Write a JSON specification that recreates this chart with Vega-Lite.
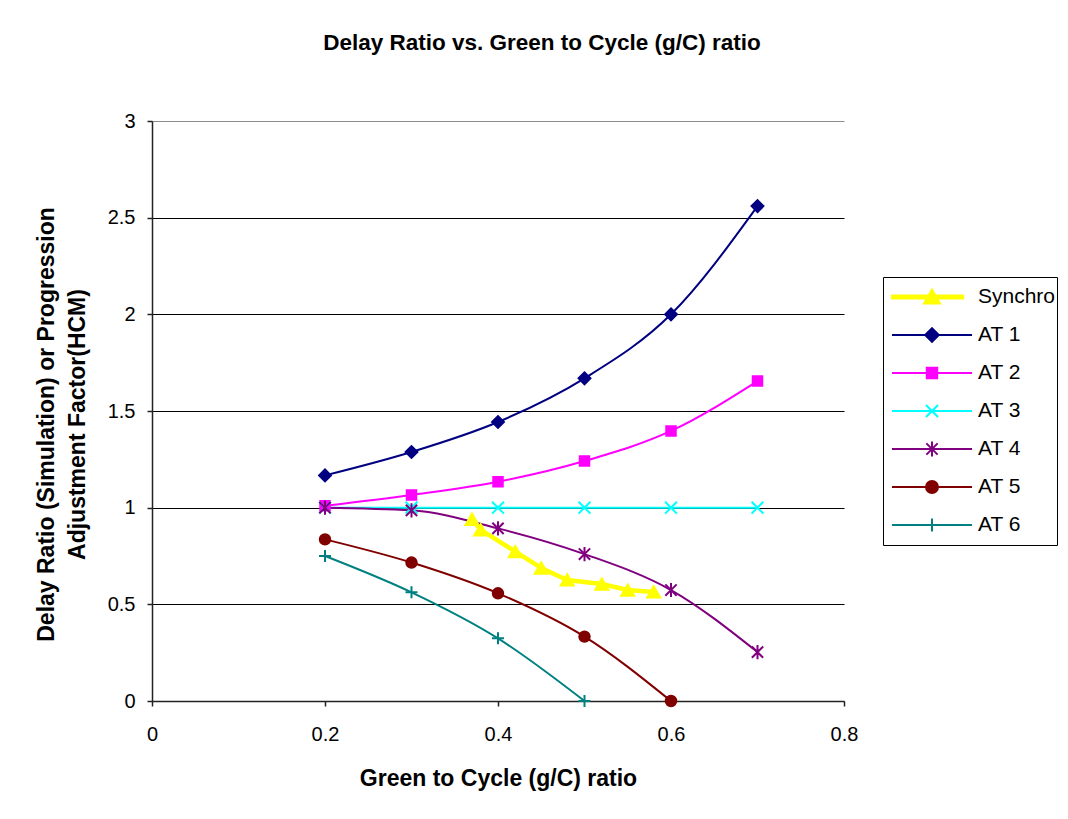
{
  "$schema": "https://vega.github.io/schema/vega-lite/v6.json",
  "width": 692,
  "height": 580,
  "autosize": {"type": "none"},
  "padding": {"left": 152, "top": 121, "right": 224, "bottom": 118},
  "background": "white",
  "title": {
    "text": "Delay Ratio vs. Green to Cycle (g/C) ratio",
    "font": "Liberation Sans",
    "fontSize": 22.5,
    "fontWeight": "bold",
    "color": "black",
    "anchor": "middle",
    "dx": 44,
    "offset": 57
  },
  "data": {
    "values": [
      {"series": "Synchro", "gc": 0.37, "ratio": 0.94},
      {"series": "Synchro", "gc": 0.38, "ratio": 0.885},
      {"series": "Synchro", "gc": 0.42, "ratio": 0.773},
      {"series": "Synchro", "gc": 0.45, "ratio": 0.688},
      {"series": "Synchro", "gc": 0.48, "ratio": 0.626},
      {"series": "Synchro", "gc": 0.52, "ratio": 0.605},
      {"series": "Synchro", "gc": 0.55, "ratio": 0.574},
      {"series": "Synchro", "gc": 0.58, "ratio": 0.564},
      {"series": "AT 1", "gc": 0.2, "ratio": 1.167},
      {"series": "AT 1", "gc": 0.3, "ratio": 1.288},
      {"series": "AT 1", "gc": 0.4, "ratio": 1.443},
      {"series": "AT 1", "gc": 0.5, "ratio": 1.669},
      {"series": "AT 1", "gc": 0.6, "ratio": 2.0},
      {"series": "AT 1", "gc": 0.7, "ratio": 2.56},
      {"series": "AT 2", "gc": 0.2, "ratio": 1.01},
      {"series": "AT 2", "gc": 0.3, "ratio": 1.066},
      {"series": "AT 2", "gc": 0.4, "ratio": 1.134},
      {"series": "AT 2", "gc": 0.5, "ratio": 1.241},
      {"series": "AT 2", "gc": 0.6, "ratio": 1.397},
      {"series": "AT 2", "gc": 0.7, "ratio": 1.655},
      {"series": "AT 3", "gc": 0.2, "ratio": 1.0},
      {"series": "AT 3", "gc": 0.3, "ratio": 1.0},
      {"series": "AT 3", "gc": 0.4, "ratio": 1.0},
      {"series": "AT 3", "gc": 0.5, "ratio": 1.0},
      {"series": "AT 3", "gc": 0.6, "ratio": 1.0},
      {"series": "AT 3", "gc": 0.7, "ratio": 1.0},
      {"series": "AT 4", "gc": 0.2, "ratio": 1.0},
      {"series": "AT 4", "gc": 0.3, "ratio": 0.986},
      {"series": "AT 4", "gc": 0.4, "ratio": 0.893},
      {"series": "AT 4", "gc": 0.5, "ratio": 0.76},
      {"series": "AT 4", "gc": 0.6, "ratio": 0.574},
      {"series": "AT 4", "gc": 0.7, "ratio": 0.253},
      {"series": "AT 5", "gc": 0.2, "ratio": 0.836},
      {"series": "AT 5", "gc": 0.3, "ratio": 0.716},
      {"series": "AT 5", "gc": 0.4, "ratio": 0.557},
      {"series": "AT 5", "gc": 0.5, "ratio": 0.333},
      {"series": "AT 5", "gc": 0.6, "ratio": 0.0},
      {"series": "AT 6", "gc": 0.2, "ratio": 0.75},
      {"series": "AT 6", "gc": 0.3, "ratio": 0.562},
      {"series": "AT 6", "gc": 0.4, "ratio": 0.324},
      {"series": "AT 6", "gc": 0.5, "ratio": 0.0}
    ]
  },
  "encoding": {
    "x": {
      "field": "gc",
      "type": "quantitative",
      "scale": {"domain": [0, 0.8], "nice": false},
      "axis": {
        "title": "Green to Cycle (g/C) ratio",
        "values": [0, 0.2, 0.4, 0.6, 0.8],
        "format": "~g",
        "grid": false,
        "labelFlush": false,
        "tickSize": 5,
        "labelPadding": 18,
        "titleY": 66
      }
    },
    "y": {
      "field": "ratio",
      "type": "quantitative",
      "scale": {"domain": [0, 3], "nice": false},
      "axis": {
        "title": ["Delay Ratio (Simulation) or Progression", "Adjustment Factor(HCM)"],
        "values": [0, 0.5, 1, 1.5, 2, 2.5, 3],
        "format": "~g",
        "grid": true,
        "gridColor": {"condition": {"test": "datum.value === 3", "value": "#8c8c8c"}, "value": "black"},
        "gridWidth": 1,
        "tickSize": 5,
        "labelPadding": 12,
        "titleX": -94,
        "titleY": 303,
        "titleLineHeight": 31
      }
    },
    "color": {
      "field": "series",
      "type": "nominal",
      "scale": {
        "domain": ["Synchro", "AT 1", "AT 2", "AT 3", "AT 4", "AT 5", "AT 6"],
        "range": ["#FFFF00", "#000080", "#FF00FF", "#00FFFF", "#800080", "#800000", "#008080"]
      },
      "legend": {
        "title": null,
        "orient": "none",
        "legendX": 731,
        "legendY": 156,
        "direction": "vertical",
        "symbolSize": 6400,
        "symbolStrokeWidth": 2,
        "clipHeight": 38,
        "rowPadding": 0,
        "padding": 1,
        "symbolOffset": 7,
        "labelOffset": 5,
        "labelFont": "Liberation Sans",
        "labelFontSize": 21,
        "labelColor": "black",
        "strokeColor": "black",
        "fillColor": "white",
        "encode": {
          "symbols": {
            "update": {
              "shape": {"signal": "datum.value === 'Synchro' ? 'M-1,-0.04H0.78V0.04H-1ZM0,-0.19L0.2,0.16H-0.2Z' : datum.value === 'AT 1' ? 'M-1,0H1M0,-0.17L0.17,0L0,0.17L-0.17,0Z' : datum.value === 'AT 2' ? 'M-1,0H1M-0.13,-0.13H0.13V0.13H-0.13Z' : datum.value === 'AT 3' ? 'M-1,0H1M-0.15,-0.15L0.15,0.15M-0.15,0.15L0.15,-0.15' : datum.value === 'AT 4' ? 'M-1,0H1M-0.14,-0.14L0.14,0.14M-0.14,0.14L0.14,-0.14M0,-0.19V0.19' : datum.value === 'AT 5' ? 'M-1,0H1M-0.15,0A0.15,0.15,0,1,0,0.15,0A0.15,0.15,0,1,0,-0.15,0Z' : 'M-1,0H1M0,-0.16V0.16'"},
              "fill": {"signal": "scale('color', datum.value)"},
              "stroke": {"signal": "scale('color', datum.value)"},
              "strokeWidth": {"value": 2},
              "opacity": {"value": 1},
              "fillOpacity": {"value": 1},
              "strokeOpacity": {"value": 1}
            }
          }
        }
      }
    }
  },
  "layer": [
    {
      "transform": [{"filter": "datum.series !== 'Synchro'"}],
      "mark": {"type": "line", "strokeWidth": 2, "interpolate": "monotone"}
    },
    {
      "transform": [{"filter": "datum.series === 'Synchro'"}],
      "mark": {"type": "line", "strokeWidth": 4.5}
    },
    {
      "mark": {"type": "point", "filled": true, "opacity": 1, "strokeWidth": 2},
      "encoding": {
        "stroke": {
          "condition": [
            {"test": "datum.series === 'Synchro'", "value": "#FFFF00"},
            {"test": "datum.series === 'AT 1'", "value": "#000080"},
            {"test": "datum.series === 'AT 2'", "value": "#FF00FF"},
            {"test": "datum.series === 'AT 3'", "value": "#00FFFF"},
            {"test": "datum.series === 'AT 4'", "value": "#800080"},
            {"test": "datum.series === 'AT 5'", "value": "#800000"}
          ],
          "value": "#008080"
        },
        "shape": {
          "condition": [
            {"test": "datum.series === 'Synchro'", "value": "triangle-up"},
            {"test": "datum.series === 'AT 1'", "value": "diamond"},
            {"test": "datum.series === 'AT 2'", "value": "square"},
            {"test": "datum.series === 'AT 3'", "value": "M-1,-1L1,1M-1,1L1,-1"},
            {"test": "datum.series === 'AT 4'", "value": "M-0.8,-0.8L0.8,0.8M-0.8,0.8L0.8,-0.8M0,-1V1"},
            {"test": "datum.series === 'AT 5'", "value": "circle"}
          ],
          "value": "M0,-1V1M-1,0H1"
        },
        "size": {
          "condition": [
            {"test": "datum.series === 'Synchro'", "value": 170},
            {"test": "datum.series === 'AT 1'", "value": 140},
            {"test": "datum.series === 'AT 2'", "value": 90},
            {"test": "datum.series === 'AT 3'", "value": 140},
            {"test": "datum.series === 'AT 4'", "value": 200},
            {"test": "datum.series === 'AT 5'", "value": 110}
          ],
          "value": 144
        }
      }
    }
  ],
  "config": {
    "view": {"stroke": null},
    "font": "Liberation Sans",
    "axis": {
      "labelFont": "Liberation Sans",
      "labelFontSize": 20,
      "labelColor": "black",
      "titleFont": "Liberation Sans",
      "titleFontSize": 23,
      "titleFontWeight": "bold",
      "titleColor": "black",
      "domainColor": "#222222",
      "domainWidth": 1.5,
      "tickColor": "#222222",
      "tickWidth": 1.5
    }
  }
}
